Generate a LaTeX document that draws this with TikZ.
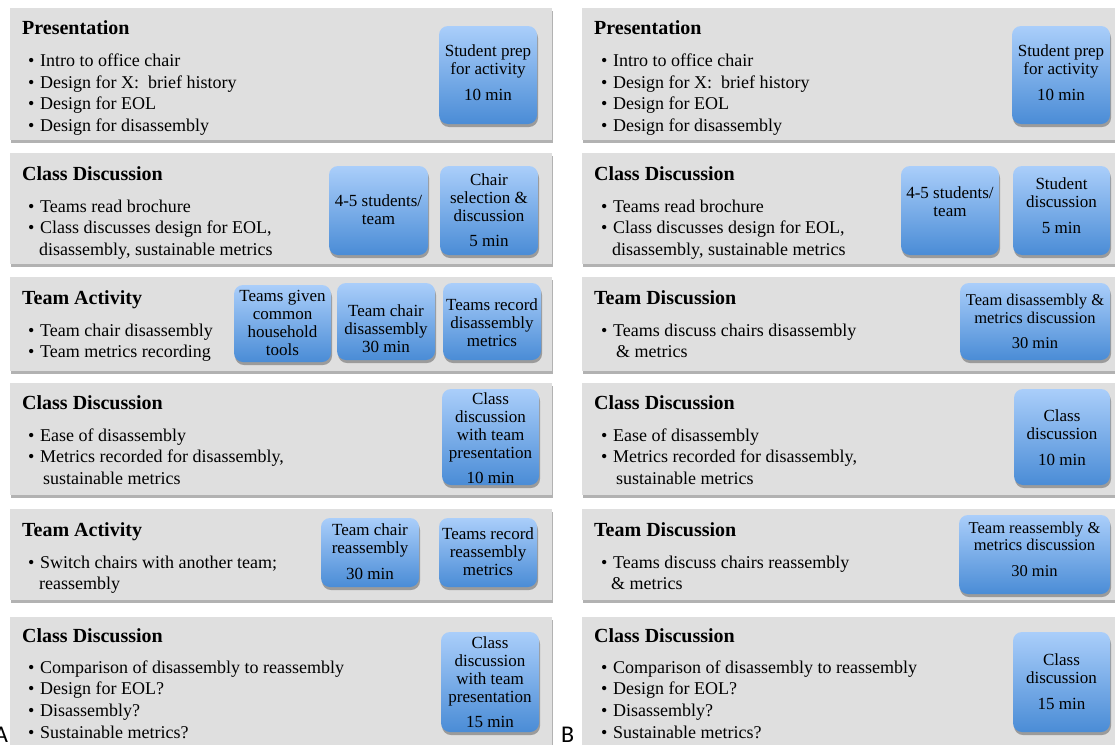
\documentclass[tikz,border=0pt]{standalone}
\usepackage{fontspec}
\setmainfont{Liberation Serif}
\newfontfamily\labfont{Carlito}
\usetikzlibrary{shadows}
\definecolor{panelgray}{RGB}{223,223,223}
\definecolor{boxtop}{RGB}{170,206,250}
\definecolor{boxbot}{RGB}{74,140,214}
\tikzset{
 panel/.style={fill=panelgray, draw=none, inner sep=0pt, drop shadow={shadow xshift=0.5pt, shadow yshift=-2.5pt, fill=black, opacity=0.3}},
 bluebox/.style={rounded corners=9pt, top color=boxtop, bottom color=boxbot, draw=none, inner sep=0pt, drop shadow={shadow xshift=1pt, shadow yshift=-3pt, fill=black, opacity=0.3}},
 boxtext/.style={align=center, inner sep=0pt, font=\fontsize{17}{18}\selectfont},
 boxtextw/.style={align=center, inner sep=0pt, font=\fontsize{16.5}{17.5}\selectfont},
 ttl/.style={anchor=base west, inner sep=0pt, font=\fontsize{20}{24}\selectfont\bfseries},
 btext/.style={anchor=base west, inner sep=0pt, font=\fontsize{18}{21.6}\selectfont},
 lab/.style={anchor=base west, inner sep=0pt, font=\labfont\fontsize{24}{28}\selectfont},
}
\newcommand\bitem[4]{\node[btext] (#1b) at (#2,#3) {•}; \node[btext] (#1) at ({#2+12},#3) {#4};}
\begin{document}
\begin{tikzpicture}[x=1pt,y=-1pt]
\useasboundingbox (0,0) rectangle (1115,744);
\clip (0,0) rectangle (1115,744);
\fill[white] (0,0) rectangle (1115,744);

% ================= LEFT COLUMN =================
% Panel 1
\node[panel, minimum width=542pt, minimum height=132pt] (pL1) at (281,74) {};
\node[ttl] (tL1) at (22,34) {Presentation};
\bitem{L1a}{28}{66}{Intro to office chair}
\bitem{L1b}{28}{88}{Design for X:~ brief history}
\bitem{L1c}{28}{109.5}{Design for EOL}
\bitem{L1d}{28}{131}{Design for disassembly}
\node[bluebox, minimum width=98pt, minimum height=98pt] (bL1) at (488,75) {};
\node[boxtext] (xL1) at (488,73) {Student prep\\for activity\\[8pt]10 min};

% Panel 2
\node[panel, minimum width=542pt, minimum height=111pt] (pL2) at (281,208.5) {};
\node[ttl] (tL2) at (22,180) {Class Discussion};
\bitem{L2a}{28}{212}{Teams read brochure}
\bitem{L2b}{28}{233.5}{Class discusses design for EOL,}
\node[btext] (L2c) at (39,255) {disassembly, sustainable metrics};
\node[bluebox, minimum width=99pt, minimum height=89pt] (bL2a) at (378.5,210.5) {};
\node[boxtext] (xL2a) at (378.5,210) {4-5 students/\\team};
\node[bluebox, minimum width=98pt, minimum height=89pt] (bL2b) at (489,210.5) {};
\node[boxtext] (xL2b) at (489,210) {Chair\\selection \&\\discussion\\[7pt]5 min};

% Panel 3
\node[panel, minimum width=542pt, minimum height=94pt] (pL3) at (281,324) {};
\node[ttl] (tL3) at (22,304) {Team Activity};
\bitem{L3a}{28}{336}{Team chair disassembly}
\bitem{L3b}{28}{357}{Team metrics recording}
\node[bluebox, minimum width=97pt, minimum height=77pt] (bL3a) at (282.5,323.5) {};
\node[boxtext] (xL3a) at (282.5,323) {Teams given\\common\\household\\tools};
\node[bluebox, minimum width=98pt, minimum height=77pt] (bL3b) at (386,321.5) {};
\node[boxtext] (xL3b) at (386,329) {Team chair\\disassembly\\30 min};
\node[bluebox, minimum width=98pt, minimum height=77pt] (bL3c) at (492,321.5) {};
\node[boxtext] (xL3c) at (492,323) {Teams record\\disassembly\\metrics};

% Panel 4
\node[panel, minimum width=542pt, minimum height=112pt] (pL4) at (281,439) {};
\node[ttl] (tL4) at (22,409) {Class Discussion};
\bitem{L4a}{28}{441}{Ease of disassembly}
\bitem{L4b}{28}{462.5}{Metrics recorded for disassembly,}
\node[btext] (L4c) at (43,484) {sustainable metrics};
\node[bluebox, minimum width=97pt, minimum height=96pt] (bL4) at (490.5,437) {};
\node[boxtext] (xL4) at (490.5,438) {Class\\discussion\\with team\\presentation\\[7pt]10 min};

% Panel 5
\node[panel, minimum width=542pt, minimum height=91pt] (pL5) at (281,554.5) {};
\node[ttl] (tL5) at (22,536) {Team Activity};
\bitem{L5a}{28}{568}{Switch chairs with another team;}
\node[btext] (L5c) at (39,589) {reassembly};
\node[bluebox, minimum width=98pt, minimum height=69pt] (bL5a) at (370,552.5) {};
\node[boxtext] (xL5a) at (370,551.5) {Team chair\\reassembly\\[8pt]30 min};
\node[bluebox, minimum width=98pt, minimum height=69pt] (bL5b) at (488,552.5) {};
\node[boxtext] (xL5b) at (488,552) {Teams record\\reassembly\\metrics};

% Panel 6
\node[panel, minimum width=542pt, minimum height=143pt] (pL6) at (281,688.5) {};
\node[ttl] (tL6) at (22,642) {Class Discussion};
\bitem{L6a}{28}{673}{Comparison of disassembly to reassembly}
\bitem{L6b}{28}{694.5}{Design for EOL?}
\bitem{L6c}{28}{716}{Disassembly?}
\bitem{L6d}{28}{738}{Sustainable metrics?}
\node[bluebox, minimum width=98pt, minimum height=100pt] (bL6) at (490,682) {};
\node[boxtext] (xL6) at (490,682) {Class\\discussion\\with team\\presentation\\[7pt]15 min};

% ================= RIGHT COLUMN =================
% Panel 1
\node[panel, minimum width=548pt, minimum height=132pt] (pR1) at (856,74) {};
\node[ttl] (tR1) at (594,34) {Presentation};
\bitem{R1a}{601}{66}{Intro to office chair}
\bitem{R1b}{601}{88}{Design for X:~ brief history}
\bitem{R1c}{601}{109.5}{Design for EOL}
\bitem{R1d}{601}{131}{Design for disassembly}
\node[bluebox, minimum width=98pt, minimum height=98pt] (bR1) at (1061,75) {};
\node[boxtext] (xR1) at (1061,73) {Student prep\\for activity\\[8pt]10 min};

% Panel 2
\node[panel, minimum width=548pt, minimum height=111pt] (pR2) at (856,208.5) {};
\node[ttl] (tR2) at (594,180) {Class Discussion};
\bitem{R2a}{601}{212}{Teams read brochure}
\bitem{R2b}{601}{233.5}{Class discusses design for EOL,}
\node[btext] (R2c) at (612,255) {disassembly, sustainable metrics};
\node[bluebox, minimum width=98pt, minimum height=89pt] (bR2a) at (950,210.5) {};
\node[boxtext] (xR2a) at (950,202) {4-5 students/\\team};
\node[bluebox, minimum width=97pt, minimum height=89pt] (bR2b) at (1061.5,210.5) {};
\node[boxtext] (xR2b) at (1061.5,205.5) {Student\\discussion\\[8pt]5 min};

% Panel 3
\node[panel, minimum width=548pt, minimum height=94pt] (pR3) at (856,324) {};
\node[ttl] (tR3) at (594,304) {Team Discussion};
\bitem{R3a}{601}{336}{Teams discuss chairs disassembly}
\node[btext] (R3c) at (616,357) {\& metrics};
\node[bluebox, minimum width=150pt, minimum height=77pt] (bR3) at (1035,321.5) {};
\node[boxtextw] (xR3) at (1035,321.5) {Team disassembly \&\\metrics discussion\\[8pt]30 min};

% Panel 4
\node[panel, minimum width=548pt, minimum height=112pt] (pR4) at (856,439) {};
\node[ttl] (tR4) at (594,409) {Class Discussion};
\bitem{R4a}{601}{441}{Ease of disassembly}
\bitem{R4b}{601}{462.5}{Metrics recorded for disassembly,}
\node[btext] (R4c) at (616,484) {sustainable metrics};
\node[bluebox, minimum width=96pt, minimum height=96pt] (bR4) at (1062,437) {};
\node[boxtext] (xR4) at (1062,437.5) {Class\\discussion\\[8pt]10 min};

% Panel 5
\node[panel, minimum width=548pt, minimum height=91pt] (pR5) at (856,554.5) {};
\node[ttl] (tR5) at (594,536) {Team Discussion};
\bitem{R5a}{601}{568}{Teams discuss chairs reassembly}
\node[btext] (R5c) at (611,589) {\& metrics};
\node[bluebox, minimum width=151pt, minimum height=79pt] (bR5) at (1034.5,554.5) {};
\node[boxtextw] (xR5) at (1034.5,549) {Team reassembly \&\\metrics discussion\\[8pt]30 min};

% Panel 6
\node[panel, minimum width=548pt, minimum height=143pt] (pR6) at (856,688.5) {};
\node[ttl] (tR6) at (594,642) {Class Discussion};
\bitem{R6a}{601}{673}{Comparison of disassembly to reassembly}
\bitem{R6b}{601}{694.5}{Design for EOL?}
\bitem{R6c}{601}{716}{Disassembly?}
\bitem{R6d}{601}{738}{Sustainable metrics?}
\node[bluebox, minimum width=97pt, minimum height=100pt] (bR6) at (1061.5,682) {};
\node[boxtext] (xR6) at (1061.5,681.5) {Class\\discussion\\[8pt]15 min};

% Labels
\node[lab] (labA) at (-6,742) {A};
\node[lab] (labB) at (561,742) {B};
\end{tikzpicture}
\end{document}
